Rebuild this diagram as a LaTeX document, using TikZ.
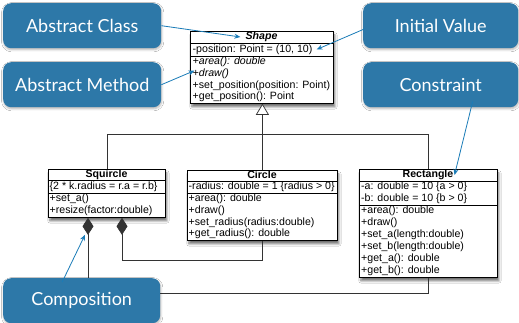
\documentclass[tikz,border=0pt]{standalone}
\usepackage{fontspec}
\setmainfont{Liberation Sans}
\newfontfamily\calloutfont{Lato}
\usetikzlibrary{arrows.meta, calc, shadows.blur}

\definecolor{callout}{HTML}{2D78A8}
\definecolor{calloutline}{HTML}{1A7CB8}

\begin{document}
\begin{tikzpicture}[x=1pt, y=-1pt,
  callout/.style={fill=callout, rounded corners=8pt, text=white,
    font=\calloutfont\fontsize{18}{21}\selectfont,
    minimum height=45pt, anchor=north west, inner sep=0pt,
    blur shadow={shadow xshift=0.5pt, shadow yshift=-1.5pt,
      shadow blur steps=4, shadow opacity=30}},
  note/.style={draw=calloutline, line width=0.8pt,
    -{Stealth[length=6pt, width=5pt]}},
  umlbox/.style={draw=black, line width=0.8pt, fill=white,
    anchor=north west, inner sep=0pt,
    blur shadow={shadow xshift=1.5pt, shadow yshift=-3.5pt,
      shadow blur steps=6, shadow opacity=55}},
  sep/.style={draw=black, line width=0.6pt},
  member/.style={anchor=west, inner sep=0pt,
    font=\fontsize{10.6}{12}\selectfont, text height=7.7pt, text depth=2.3pt},
  title/.style={inner sep=0pt, font=\bfseries\fontsize{10.6}{12}\selectfont,
    text height=7.7pt, text depth=2.3pt},
  link/.style={draw=black!80, line width=0.7pt},
]
\fill[white] (0,0) rectangle (519,323);
\useasboundingbox (0,0) rectangle (519,323);

% ---------- class boxes ----------
% Shape
\node[umlbox, minimum width=143pt, minimum height=72pt] (shape) at (190,31) {};
\draw[sep] (190,43) -- (333,43);
\draw[sep] (190,56) -- (333,56);
\node[title] (shape-t) at (261.5,37) {\textit{Shape}};
\node[member] (shape-a) at (192.5,49.5) {-position: Point = (10, 10)};
\foreach \t [count=\i] in {{\textit{+area(): double}}, {\textit{+draw()}},
    {+set\_position(position: Point)}, {+get\_position(): Point}}
  \node[member] (shape-m\i) at (192.5,{56+11.75*(\i-0.5)}) {\t};

% Squircle
\node[umlbox, minimum width=117pt, minimum height=48pt] (squircle) at (48,169) {};
\draw[sep] (48,180) -- (165,180);
\draw[sep] (48,193) -- (165,193);
\node[title] (squircle-t) at (106.5,174.5) {Squircle};
\node[member] (squircle-a) at (49.5,186.5) {\{2 * k.radius = r.a = r.b\}};
\foreach \t [count=\i] in {{+set\_a()}, {+resize(factor:double)}}
  \node[member] (squircle-m\i) at (49.5,{193+12*(\i-0.5)}) {\t};

% Circle
\node[umlbox, minimum width=150pt, minimum height=70pt] (circle) at (187,170) {};
\draw[sep] (187,181.5) -- (337,181.5);
\draw[sep] (187,193) -- (337,193);
\node[title] (circle-t) at (262,175.75) {Circle};
\node[member] (circle-a) at (188.5,187.25) {-radius: double = 1 \{radius > 0\}};
\foreach \t [count=\i] in {{+area(): double}, {+draw()},
    {+set\_radius(radius:double)}, {+get\_radius(): double}}
  \node[member] (circle-m\i) at (188.5,{193+11.75*(\i-0.5)}) {\t};

% Rectangle
\node[umlbox, minimum width=138pt, minimum height=108pt] (rect) at (359,169) {};
\draw[sep] (359,181) -- (497,181);
\draw[sep] (359,205) -- (497,205);
\node[title] (rect-t) at (428,175) {Rectangle};
\node[member] (rect-a1) at (361,187) {-a: double = 10 \{a > 0\}};
\node[member] (rect-a2) at (361,199) {-b: double = 10 \{b > 0\}};
\foreach \t [count=\i] in {{+area(): double}, {+draw()},
    {+set\_a(length:double)}, {+set\_b(length:double)},
    {+get\_a(): double}, {+get\_b(): double}}
  \node[member] (rect-m\i) at (361,{205+12*(\i-0.5)}) {\t};

% ---------- generalisation ----------
\draw[link] (squircle.north) -- ++(0,-35) -| (rect.north);
\draw[link, -{Triangle[open, length=11pt, width=13pt, fill=white]}]
  (circle.north) -- (circle.north |- shape.south);

% ---------- composition ----------
\coordinate (dia1) at ($(squircle.south west)+(40,0)$);
\coordinate (dia2) at ($(squircle.south west)+(74,0)$);
\draw[link, {Diamond[length=17pt, width=11pt]}-] (dia1) -- ++(0,76) -| (rect.south);
\draw[link, {Diamond[length=17pt, width=11pt]}-] (dia2) -- ++(0,43) -| (circle.south);

% ---------- callouts ----------
\node[callout, minimum width=158pt] (acls) at (3,3) {Abstract Class};
\node[callout, minimum width=158pt] (amth) at (3,62) {Abstract Method};
\node[callout, minimum width=155pt] (ival) at (363,3) {Initial Value};
\node[callout, minimum width=155pt] (cons) at (363,62) {Constraint};
\node[callout, minimum width=157pt] (comp) at (3,278) {Composition};

\draw[note] (acls.east) -- ([xshift=-5pt]shape-t.west);
\draw[note] (amth.east) -- ([shift={(2,-3)}]shape-m2.west);
\draw[note] ([shift={(2,3)}]ival.west) -- ([xshift=4pt]shape-a.east);
\draw[note] ($(cons.south)+(32,-6)$) -- ([xshift=1pt]rect-t.east);
\draw[note] ($(comp.north)+(-19.5,4)$) -- ($(squircle.south west)+(37,17)$);
\end{tikzpicture}
\end{document}
